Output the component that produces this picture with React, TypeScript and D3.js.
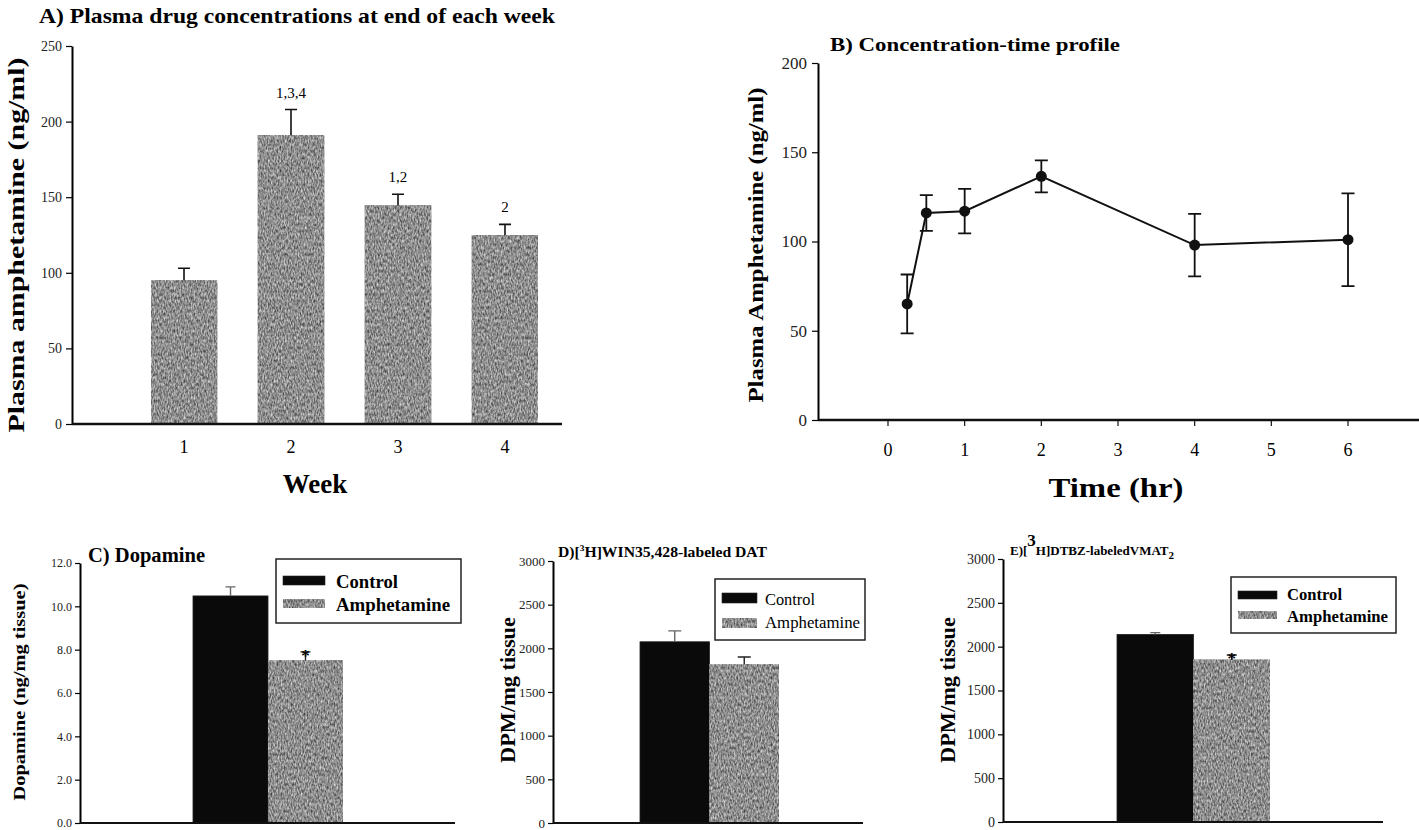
import React, { useEffect, useRef } from "react";
import * as d3 from "d3";

// A) plasma amphetamine at end of each week
const weeks = ["1", "2", "3", "4"];
const weekMeans = [95, 191, 144.5, 125];
const weekErrs = [8, 17, 7.5, 7];
const weekLetters = ["", "1,3,4", "1,2", "2"];

// B) concentration-time profile
const hours = [0.25, 0.5, 1, 2, 4, 6];
const hourMeans = [65, 116, 117, 136.5, 98, 101];
const hourErrs = [16.5, 10, 12.5, 9, 17.5, 26];
const hourTicks = [0, 1, 2, 3, 4, 5, 6];

// C, D, E) control vs amphetamine
const groups = ["Control", "Amphetamine"];
const dopamine = [10.48, 7.5];
const dopamineErr = [0.42, 0.4];
const dat = [2075, 1815];
const datErr = [125, 85];
const vmat = [2140, 1850];
const vmatErr = [20, 55];
const dopamineStars = ["", "*"];
const datStars = ["", ""];
const vmatStars = ["", "*"];

const FONT = "'Liberation Serif', 'Times New Roman', serif";
const GREY = "#8e8e8e";

function rotLabel(g, text, cx, cy, size, len) {
  g.append("text")
    .attr("transform", `translate(${cx},${cy}) rotate(-90)`)
    .attr("text-anchor", "middle")
    .attr("dy", "0.35em")
    .attr("font-family", FONT)
    .attr("font-weight", "bold")
    .attr("font-size", size)
    .attr("textLength", len)
    .attr("lengthAdjust", "spacingAndGlyphs")
    .text(text);
}

function styleAxis(ax, size) {
  ax.select(".domain").attr("stroke-width", 2);
  ax.selectAll(".tick line").attr("stroke-width", 1.2);
  ax.selectAll(".tick text")
    .attr("font-family", FONT)
    .attr("font-size", size)
    .attr("fill", "#222");
}

function drawPanelA(g) {
  const y = d3.scaleLinear().domain([0, 250]).range([424, 46]);
  const x = d3.scaleBand().domain(weeks).range([129.6, 559.4])
    .paddingInner(0.383).paddingOuter(0.2);

  g.append("text")
    .attr("x", 39).attr("y", 23)
    .attr("font-family", FONT).attr("font-weight", "bold").attr("font-size", 21)
    .attr("textLength", 516).attr("lengthAdjust", "spacingAndGlyphs")
    .text("A) Plasma drug concentrations at end of each week");

  g.selectAll(".barA").data(weeks).join("rect")
    .attr("x", d => x(d))
    .attr("y", (d, i) => y(weekMeans[i]))
    .attr("width", x.bandwidth())
    .attr("height", (d, i) => y(0) - y(weekMeans[i]))
    .attr("fill", GREY).attr("filter", "url(#grain)")
    .attr("stroke", "#444").attr("stroke-width", 0.8);

  const cx = d => x(d) + x.bandwidth() / 2;
  g.selectAll(".errA").data(weeks).join("path")
    .attr("d", (d, i) => {
      const t = y(weekMeans[i] + weekErrs[i]);
      return `M${cx(d)},${y(weekMeans[i])}V${t}M${cx(d) - 6},${t}H${cx(d) + 6}`;
    })
    .attr("stroke", "#111").attr("stroke-width", 1.6).attr("fill", "none");

  g.selectAll(".letA").data(weeks).join("text")
    .attr("x", cx)
    .attr("y", (d, i) => y(weekMeans[i] + weekErrs[i]) - 12)
    .attr("text-anchor", "middle")
    .attr("font-family", FONT).attr("font-size", 15)
    .text((d, i) => weekLetters[i]);

  const ax = g.append("g").attr("transform", "translate(72,0)")
    .call(d3.axisLeft(y).tickValues([0, 50, 100, 150, 200, 250]).tickSize(6).tickSizeOuter(0).tickPadding(4));
  styleAxis(ax, 14);

  g.append("line").attr("x1", 72).attr("x2", 562).attr("y1", 424).attr("y2", 424)
    .attr("stroke", "#111").attr("stroke-width", 2.5);

  g.selectAll(".wkA").data(weeks).join("text")
    .attr("x", cx).attr("y", 453)
    .attr("text-anchor", "middle")
    .attr("font-family", FONT).attr("font-size", 18)
    .text(d => d);

  g.append("text")
    .attr("x", 315).attr("y", 493).attr("text-anchor", "middle")
    .attr("font-family", FONT).attr("font-weight", "bold").attr("font-size", 27)
    .text("Week");

  rotLabel(g, "Plasma amphetamine (ng/ml)", 16, 245, 24, 375);
}

function drawPanelB(g) {
  const x = d3.scaleLinear().domain([0, 6]).range([888, 1348]);
  const y = d3.scaleLinear().domain([0, 200]).range([420, 63]);

  g.append("text")
    .attr("x", 830).attr("y", 51)
    .attr("font-family", FONT).attr("font-weight", "bold").attr("font-size", 18)
    .attr("textLength", 290).attr("lengthAdjust", "spacingAndGlyphs")
    .text("B) Concentration-time profile");

  const ax = g.append("g").attr("transform", "translate(818,0)")
    .call(d3.axisLeft(y).tickValues([0, 50, 100, 150, 200]).tickSize(6).tickSizeOuter(0).tickPadding(5));
  styleAxis(ax, 17);

  g.append("line").attr("x1", 818).attr("x2", 1419).attr("y1", 420).attr("y2", 420)
    .attr("stroke", "#111").attr("stroke-width", 2.5);
  g.selectAll(".tkB").data(hourTicks).join("line")
    .attr("x1", d => x(d)).attr("x2", d => x(d)).attr("y1", 420).attr("y2", 426)
    .attr("stroke", "#111").attr("stroke-width", 1.2);
  g.selectAll(".tlB").data(hourTicks).join("text")
    .attr("x", d => x(d)).attr("y", 456).attr("text-anchor", "middle")
    .attr("font-family", FONT).attr("font-size", 18)
    .text(d => d);

  g.append("text")
    .attr("x", 1116).attr("y", 497).attr("text-anchor", "middle")
    .attr("font-family", FONT).attr("font-weight", "bold").attr("font-size", 28)
    .attr("textLength", 135).attr("lengthAdjust", "spacingAndGlyphs")
    .text("Time (hr)");

  rotLabel(g, "Plasma Amphetamine (ng/ml)", 756, 245, 21, 315);

  const line = d3.line().x((d, i) => x(hours[i])).y(d => y(d));
  g.append("path").attr("d", line(hourMeans))
    .attr("fill", "none").attr("stroke", "#111").attr("stroke-width", 2);

  g.selectAll(".errB").data(hourMeans).join("path")
    .attr("d", (d, i) => {
      const px = x(hours[i]);
      const t = y(d + hourErrs[i]);
      const b = y(d - hourErrs[i]);
      return `M${px},${t}V${b}M${px - 6.5},${t}H${px + 6.5}M${px - 6.5},${b}H${px + 6.5}`;
    })
    .attr("stroke", "#111").attr("stroke-width", 1.8).attr("fill", "none");

  g.selectAll(".dotB").data(hourMeans).join("circle")
    .attr("cx", (d, i) => x(hours[i])).attr("cy", d => y(d)).attr("r", 5.5)
    .attr("fill", "#111");
}

function drawGroupPanel(g, o) {
  const y = d3.scaleLinear().domain([0, o.max]).range([o.y0, o.yTop]);
  const x = d3.scaleBand().domain(groups).range(o.bandRange).padding(0);

  g.selectAll(".bar").data(groups).join("rect")
    .attr("x", d => x(d))
    .attr("y", (d, i) => y(o.means[i]))
    .attr("width", x.bandwidth())
    .attr("height", (d, i) => o.y0 - y(o.means[i]))
    .attr("fill", (d, i) => (i === 0 ? "#0a0a0a" : GREY))
    .attr("filter", (d, i) => (i === 0 ? null : "url(#grain)"))
    .attr("stroke", "#222").attr("stroke-width", 0.8);

  const cx = d => x(d) + x.bandwidth() / 2;
  g.selectAll(".err").data(groups).join("path")
    .attr("d", (d, i) => {
      const t = y(o.means[i] + o.errs[i]);
      return `M${cx(d)},${y(o.means[i])}V${t}M${cx(d) - o.capW / 2},${t}H${cx(d) + o.capW / 2}`;
    })
    .attr("stroke", (d, i) => (i === 0 ? "#666" : "#222"))
    .attr("stroke-width", 1.4).attr("fill", "none");

  g.selectAll(".star").data(groups).join("text")
    .attr("x", cx)
    .attr("y", (d, i) => y(o.means[i] + o.errs[i]) + 9)
    .attr("text-anchor", "middle")
    .attr("font-family", FONT).attr("font-weight", "bold").attr("font-size", 17)
    .text((d, i) => o.stars[i]);

  const ax = g.append("g").attr("transform", `translate(${o.axisX},0)`)
    .call(d3.axisLeft(y).tickValues(d3.range(0, o.max + o.step / 2, o.step))
      .tickFormat(d3.format(o.fmt)).tickSize(5).tickSizeOuter(0).tickPadding(3));
  styleAxis(ax, o.tickFont);

  g.append("line").attr("x1", o.axisX).attr("x2", o.xEnd).attr("y1", o.y0).attr("y2", o.y0)
    .attr("stroke", "#111").attr("stroke-width", 2);

  const L = o.legend;
  g.append("rect").attr("x", L.x).attr("y", L.y).attr("width", L.w).attr("height", L.h)
    .attr("fill", "white").attr("stroke", "#222").attr("stroke-width", 1.5);
  g.selectAll(".sw").data(groups).join("rect")
    .attr("x", L.swX).attr("y", (d, i) => L.swY[i])
    .attr("width", L.swW).attr("height", L.swH)
    .attr("fill", (d, i) => (i === 0 ? "#0a0a0a" : GREY))
    .attr("filter", (d, i) => (i === 0 ? null : "url(#grain)"))
    .attr("stroke", "#222").attr("stroke-width", 0.6);
  g.selectAll(".lt").data(groups).join("text")
    .attr("x", L.textX).attr("y", (d, i) => L.base[i])
    .attr("font-family", FONT).attr("font-weight", L.weight).attr("font-size", L.font)
    .attr("textLength", (d, i) => L.len[i]).attr("lengthAdjust", "spacingAndGlyphs")
    .text(d => d);

  rotLabel(g, o.ylabel, o.ylabelX, o.ylabelY, o.ylabelFont, o.ylabelLen);
}

export default function App() {
  const ref = useRef(null);

  useEffect(() => {
    const svg = d3.select(ref.current);
    svg.selectAll("*").remove();

    // soft grey speckle like the scanned bar shading
    const defs = svg.append("defs");
    const f = defs.append("filter").attr("id", "grain")
      .attr("x", 0).attr("y", 0).attr("width", 1).attr("height", 1)
      .attr("color-interpolation-filters", "sRGB");
    f.append("feTurbulence").attr("type", "fractalNoise")
      .attr("baseFrequency", "0.7 0.3").attr("numOctaves", 2).attr("seed", 7).attr("result", "noise");
    f.append("feColorMatrix").attr("in", "noise").attr("type", "matrix")
      .attr("values", "0.85 0 0 0 0.13  0.85 0 0 0 0.13  0.85 0 0 0 0.13  0 0 0 0 1")
      .attr("result", "grey");
    f.append("feComposite").attr("in", "grey").attr("in2", "SourceGraphic").attr("operator", "in");

    svg.append("rect").attr("width", 1419).attr("height", 830).attr("fill", "white");

    drawPanelA(svg.append("g"));
    drawPanelB(svg.append("g"));

    const gc = svg.append("g");
    drawGroupPanel(gc, {
      axisX: 80, y0: 823, yTop: 563, max: 12, step: 2, fmt: ".1f", tickFont: 12,
      xEnd: 455, bandRange: [193, 343], means: dopamine, errs: dopamineErr, capW: 10,
      stars: dopamineStars,
      legend: { x: 276, y: 559, w: 185, h: 64, swX: 283, swW: 42, swH: 9, swY: [576, 599],
        textX: 336, base: [588, 611], font: 18, weight: "bold", len: [62, 114] },
      ylabel: "Dopamine (ng/mg tissue)", ylabelX: 19, ylabelY: 692, ylabelFont: 17, ylabelLen: 217,
    });
    gc.append("text").attr("x", 88).attr("y", 562)
      .attr("font-family", FONT).attr("font-weight", "bold").attr("font-size", 20)
      .attr("textLength", 117).attr("lengthAdjust", "spacingAndGlyphs")
      .text("C) Dopamine");

    const gd = svg.append("g");
    drawGroupPanel(gd, {
      axisX: 553, y0: 823, yTop: 561, max: 3000, step: 500, fmt: "d", tickFont: 13,
      xEnd: 863, bandRange: [640, 779], means: dat, errs: datErr, capW: 13,
      stars: datStars,
      legend: { x: 715, y: 579, w: 150, h: 61, swX: 722, swW: 35, swH: 10, swY: [593, 618],
        textX: 765, base: [605, 628], font: 16, weight: "normal", len: [50, 95] },
      ylabel: "DPM/mg tissue", ylabelX: 508, ylabelY: 690, ylabelFont: 20, ylabelLen: 146,
    });
    const td = gd.append("text").attr("x", 558).attr("y", 557)
      .attr("font-family", FONT).attr("font-size", 15).attr("font-weight", "bold");
    td.append("tspan").text("D)[");
    td.append("tspan").attr("font-size", 9).attr("dy", -6).text("3");
    td.append("tspan").attr("dy", 6).text("H]WIN35,428-labeled DAT");
    td.attr("textLength", 209).attr("lengthAdjust", "spacingAndGlyphs");

    const ge = svg.append("g");
    drawGroupPanel(ge, {
      axisX: 1003, y0: 822, yTop: 559, max: 3000, step: 500, fmt: "d", tickFont: 14,
      xEnd: 1383, bandRange: [1117, 1270], means: vmat, errs: vmatErr, capW: 10,
      stars: vmatStars,
      legend: { x: 1231, y: 577, w: 165, h: 56, swX: 1238, swW: 39, swH: 8, swY: [591, 611],
        textX: 1287, base: [600, 622], font: 17, weight: "bold", len: [55, 101] },
      ylabel: "DPM/mg tissue", ylabelX: 948, ylabelY: 690, ylabelFont: 20, ylabelLen: 146,
    });
    const te = ge.append("text").attr("x", 1010).attr("y", 555)
      .attr("font-family", FONT).attr("font-size", 13).attr("font-weight", "bold");
    te.append("tspan").text("E)[");
    te.append("tspan").attr("font-size", 17).attr("dy", -9).text("3");
    te.append("tspan").attr("dy", 9).text("H]DTBZ-labeledVMAT");
    te.append("tspan").attr("font-size", 11).attr("dy", 4).text("2");
  }, []);

  return (
    <svg
      ref={ref}
      width={1419}
      height={830}
      style={{ position: "absolute", left: 0, top: 0, display: "block" }}
    />
  );
}
